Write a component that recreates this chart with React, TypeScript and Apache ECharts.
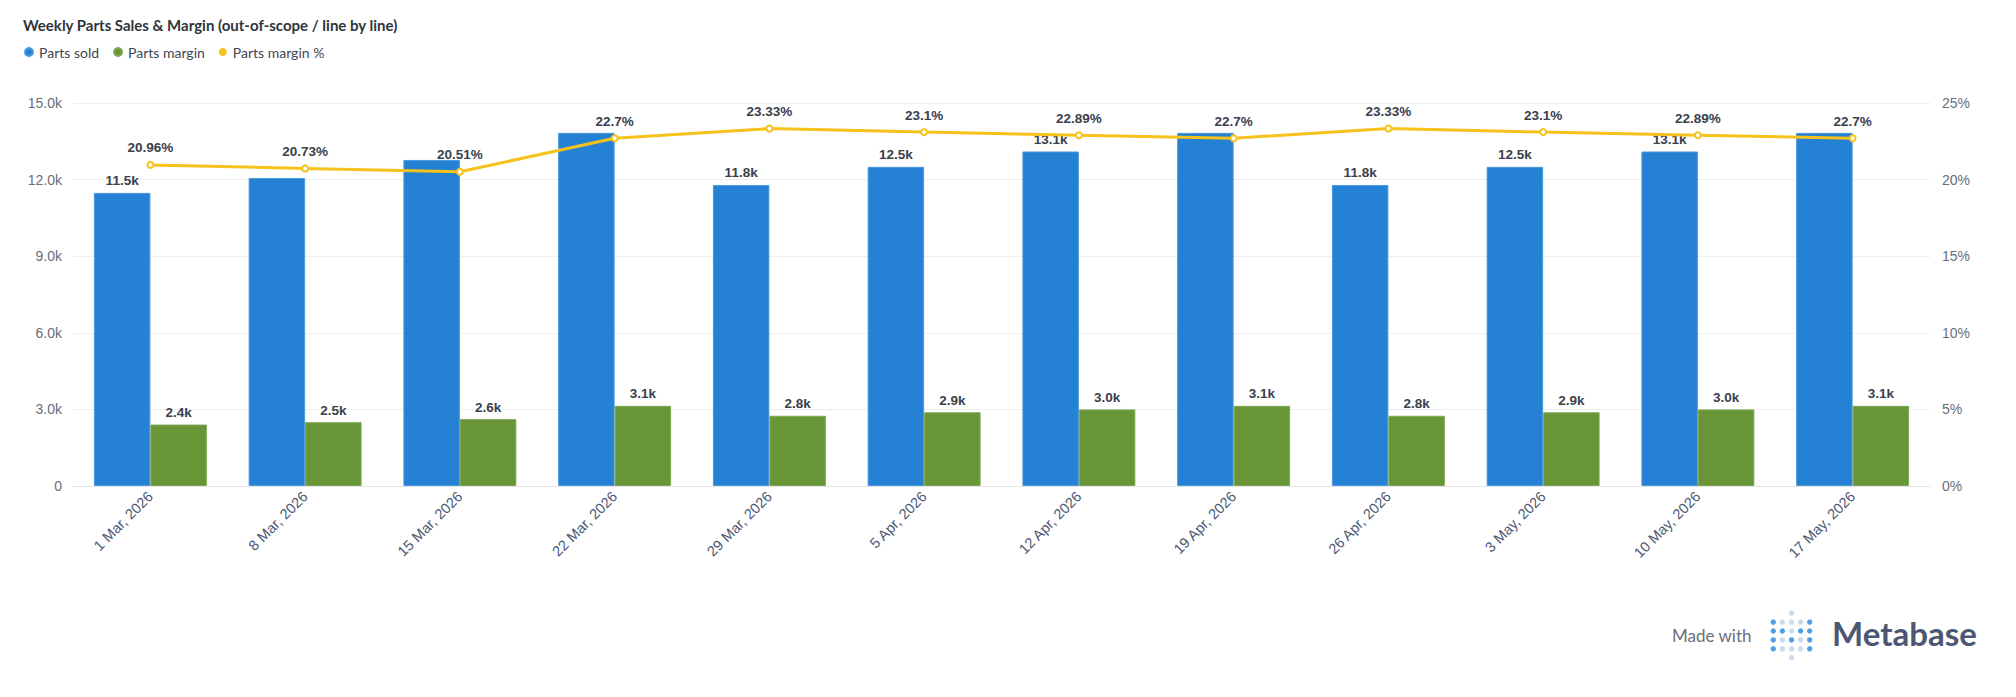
import React, { useEffect, useRef } from "react";
import * as echarts from "echarts";

const weeks = [
  "1 Mar, 2026", "8 Mar, 2026", "15 Mar, 2026", "22 Mar, 2026", "29 Mar, 2026", "5 Apr, 2026",
  "12 Apr, 2026", "19 Apr, 2026", "26 Apr, 2026", "3 May, 2026", "10 May, 2026", "17 May, 2026",
];
const partsSold = [11480, 12060, 12770, 13830, 11790, 12500, 13100, 13830, 11790, 12500, 13100, 13830];
const partsMargin = [2406, 2500, 2619, 3139, 2751, 2888, 2999, 3139, 2751, 2888, 2999, 3139];
const marginPct = [20.96, 20.73, 20.51, 22.7, 23.33, 23.1, 22.89, 22.7, 23.33, 23.1, 22.89, 22.7];
// labels of "Parts sold" that the reference hides (overlap)
const soldLabelHidden = [false, true, true, true, false, false, false, true, false, false, false, true];
const leftTicks = { min: 0, max: 15000, interval: 3000 };
const rightTicks = { min: 0, max: 25, interval: 5 };

const BLUE = "#2481D3";
const GREEN = "#689636";
const YELLOW = "#F7C21C";
const LABEL_FONT = "Liberation Sans, Arial, Helvetica, sans-serif";
const UI_FONT = "Lato, 'Noto Sans', sans-serif";

const kFmt = (v: number) => (v === 0 ? "0" : (v / 1000).toFixed(1) + "k");

export default function App() {
  const ref = useRef<HTMLDivElement>(null);
  useEffect(() => {
    if (!ref.current) return;
    const chart = echarts.init(ref.current, null, { renderer: "svg" });

    const logoDark = "#509EE3";
    const logoLight = "#C6DCF4";
    const pattern = [
      [0, 0, 1, 0, 0],
      [2, 1, 1, 1, 2],
      [2, 2, 1, 2, 2],
      [2, 1, 2, 1, 2],
      [2, 1, 1, 1, 2],
      [0, 0, 1, 0, 0],
    ];
    const dots: any[] = [];
    pattern.forEach((row, r) =>
      row.forEach((c, ci) => {
        if (c === 0) return;
        dots.push({
          type: "circle",
          shape: { cx: 1773.3 + ci * 9.1, cy: 613.2 + r * 8.9, r: 2.7 },
          style: { fill: c === 2 ? logoDark : logoLight },
        });
      })
    );

    chart.setOption({
      animation: false,
      backgroundColor: "#ffffff",
      title: {
        text: "Weekly Parts Sales & Margin (out-of-scope / line by line)",
        left: 18,
        top: 12,
        textStyle: { fontFamily: UI_FONT, fontSize: 15, fontWeight: 700, color: "#2E353B" },
      },
      legend: {
        left: 19,
        top: 40,
        icon: "circle",
        itemWidth: 8,
        itemHeight: 8,
        itemGap: 14,
        textStyle: { fontFamily: UI_FONT, fontSize: 14, color: "#3F4654", padding: [0, 0, 0, 1] },
        data: [
          { name: "Parts sold", itemStyle: { color: BLUE } },
          { name: "Parts margin", itemStyle: { color: GREEN } },
          { name: "Parts margin %", itemStyle: { color: YELLOW, borderWidth: 0 } },
        ],
      },
      grid: { left: 73, right: 86, top: 103, bottom: 211, containLabel: false },
      xAxis: {
        type: "category",
        data: weeks,
        axisTick: { show: false },
        axisLine: { lineStyle: { color: "#E4E4E4", width: 1 } },
        axisLabel: {
          rotate: 45,
          margin: 8,
          fontFamily: LABEL_FONT,
          fontSize: 14.5,
          color: "#4C5773",
          interval: 0,
        },
      },
      yAxis: [
        {
          type: "value",
          ...leftTicks,
          axisLabel: {
            formatter: kFmt,
            fontFamily: LABEL_FONT,
            fontSize: 14,
            color: "#696E7B",
            margin: 11,
          },
          splitLine: { lineStyle: { color: "#EEEEEE", width: 1 } },
          axisLine: { show: false },
          axisTick: { show: false },
        },
        {
          type: "value",
          ...rightTicks,
          position: "right",
          axisLabel: {
            formatter: (v: number) => v + "%",
            fontFamily: LABEL_FONT,
            fontSize: 14,
            color: "#696E7B",
            margin: 12,
          },
          splitLine: { show: false },
          axisLine: { show: false },
          axisTick: { show: false },
        },
      ],
      series: [
        {
          name: "Parts sold",
          type: "bar",
          yAxisIndex: 0,
          barGap: "0%",
          barCategoryGap: "27%",
          itemStyle: { color: BLUE, borderColor: "#4A98DD", borderWidth: 1 },
          data: partsSold.map((v, i) => ({ value: v, label: { show: !soldLabelHidden[i] } })),
          label: {
            show: true,
            position: "top",
            distance: 5,
            formatter: (p: any) => kFmt(p.value),
            fontFamily: LABEL_FONT,
            fontSize: 13.5,
            fontWeight: 700,
            color: "#3A404C",
          },
          z: 2,
        },
        {
          name: "Parts margin",
          type: "bar",
          yAxisIndex: 0,
          barGap: "0%",
          barCategoryGap: "27%",
          itemStyle: { color: GREEN, borderColor: "#7EA654", borderWidth: 1 },
          data: partsMargin,
          label: {
            show: true,
            position: "top",
            distance: 5,
            formatter: (p: any) => kFmt(p.value),
            fontFamily: LABEL_FONT,
            fontSize: 13.5,
            fontWeight: 700,
            color: "#3A404C",
          },
          z: 2,
        },
        {
          name: "Parts margin %",
          type: "line",
          yAxisIndex: 1,
          data: marginPct,
          symbol: "emptyCircle",
          symbolSize: 6,
          lineStyle: { color: YELLOW, width: 3 },
          itemStyle: { color: YELLOW, borderWidth: 2 },
          label: {
            show: true,
            position: "top",
            distance: 6,
            formatter: (p: any) => p.value + "%",
            fontFamily: LABEL_FONT,
            fontSize: 13.5,
            fontWeight: 700,
            color: "#3A404C",
          },
          z: 5,
        },
      ],
      graphic: [
        {
          type: "text",
          left: 1672,
          top: 627,
          style: { text: "Made with", fontFamily: UI_FONT, fontSize: 17, fill: "#696E7B" },
        },
        { type: "group", children: dots },
        {
          type: "text",
          left: 1832,
          top: 616,
          style: { text: "Metabase", fontFamily: UI_FONT, fontSize: 33, fontWeight: 700, fill: "#4C5773" },
        },
      ],
    });
    return () => chart.dispose();
  }, []);
  return (
    <div
      ref={ref}
      style={{ position: "absolute", left: 0, top: 0, width: 2016, height: 697 }}
    />
  );
}
